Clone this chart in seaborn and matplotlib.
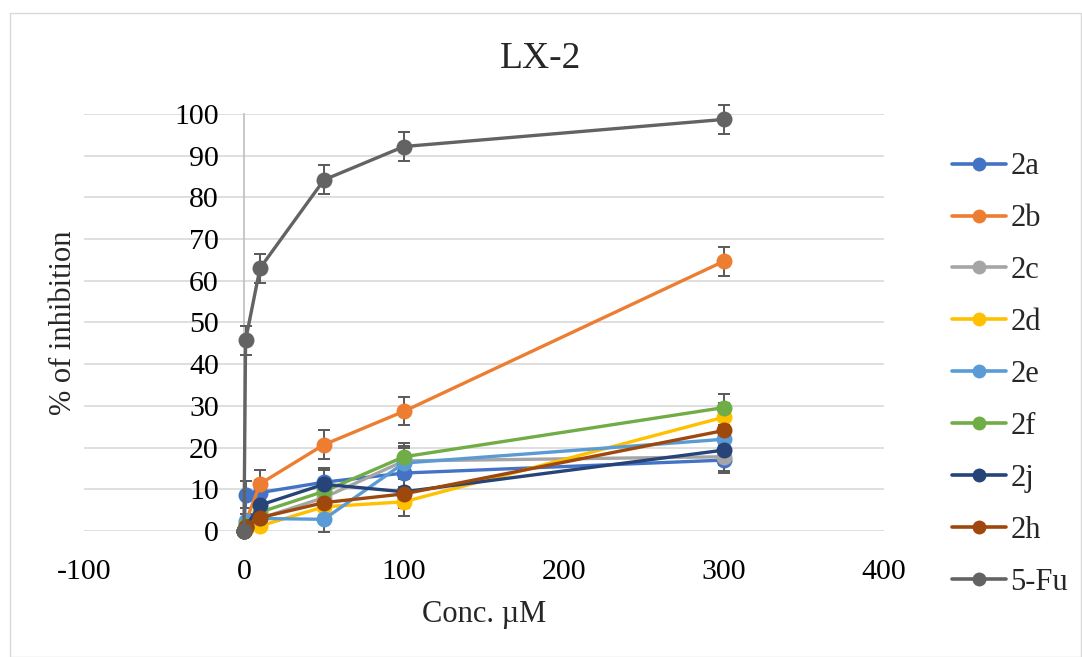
import matplotlib
matplotlib.use("Agg")
import matplotlib.pyplot as plt
import matplotlib.patches as patches
import pandas as pd
import seaborn as sns

# data
conc = [0, 1, 10, 50, 100, 300]
series_names = ["2a", "2b", "2c", "2d", "2e", "2f", "2j", "2h", "5-Fu"]
v_2a = [0, 8.7, 9.2, 11.7, 13.9, 17.0]
v_2b = [0, 2.0, 11.3, 20.7, 28.7, 64.7]
v_2c = [0, 1.0, 3.0, 8.0, 16.8, 17.8]
v_2d = [0, 0.5, 1.2, 5.8, 7.0, 27.3]
v_2e = [0, 2.5, 3.0, 2.8, 16.3, 22.0]
v_2f = [0, 1.5, 4.5, 9.5, 17.8, 29.6]
v_2j = [0, 1.0, 6.2, 11.2, 9.4, 19.4]
v_2h = [0, 1.0, 3.2, 6.8, 8.9, 24.1]
v_5fu = [0, 45.7, 63.0, 84.2, 92.2, 98.7]
err_2a = [0, 3.3, 3.0, 3.3, 3.5, 3.2]
err_2b = [0, 1.0, 3.4, 3.5, 3.4, 3.5]
err_2c = [0, 1.0, 1.5, 3.0, 3.5, 3.5]
err_2d = [0, 1.0, 1.0, 3.0, 3.5, 3.5]
err_2e = [0, 1.5, 1.5, 3.0, 3.5, 3.5]
err_2f = [0, 1.5, 2.0, 3.0, 3.2, 3.3]
err_2j = [0, 1.0, 2.0, 3.5, 3.5, 3.5]
err_2h = [0, 1.0, 2.0, 3.0, 3.5, 3.5]
err_5fu = [0, 3.5, 3.5, 3.5, 3.5, 3.5]
colors = ["#4472C4", "#ED7D31", "#A5A5A5", "#FFC000", "#5B9BD5",
          "#70AD47", "#264478", "#9E480E", "#636363"]

values = [v_2a, v_2b, v_2c, v_2d, v_2e, v_2f, v_2j, v_2h, v_5fu]
errors = [err_2a, err_2b, err_2c, err_2d, err_2e, err_2f, err_2j, err_2h, err_5fu]

rows = []
for name, vals in zip(series_names, values):
    for c, v in zip(conc, vals):
        rows.append({"conc": c, "inhib": v, "series": name})
df = pd.DataFrame(rows)

sns.set_style("white")
plt.rcParams["font.family"] = ["Liberation Serif", "DejaVu Serif"]
plt.rcParams["axes.unicode_minus"] = False

fig = plt.figure(figsize=(10.82, 6.57), dpi=100)
ax = fig.add_axes([0.0776, 0.1918, 0.817 - 0.0776, 0.8265 - 0.1918])

for name, vals, errs in zip(series_names, values, errors):
    ax.errorbar(conc, vals, yerr=errs, fmt="none", ecolor="#595959",
                elinewidth=1.4, capsize=4.3, capthick=1.4, zorder=3, clip_on=False)

sns.lineplot(data=df, x="conc", y="inhib", hue="series", palette=colors,
             hue_order=series_names, marker="o", markersize=11.5,
             markeredgewidth=0, linewidth=2.4, ax=ax, legend=False,
             zorder=4, clip_on=False)

ax.set_xlim(-100, 400)
ax.set_ylim(0, 100)
ax.set_xticks(range(-100, 401, 100))
ax.set_yticks(range(0, 101, 10))
ax.tick_params(axis="both", length=0, labelsize=21.5, colors="black")
ax.tick_params(axis="x", pad=20)
ax.tick_params(axis="y", pad=18)
ax.yaxis.grid(True, color="#D9D9D9", linewidth=1.2)
ax.xaxis.grid(False)
for s in ax.spines.values():
    s.set_visible(False)
# vertical axis crosses at x = 0, labels sit next to it
ax.spines["left"].set_visible(True)
ax.spines["left"].set_position(("data", 0))
ax.spines["left"].set_color("#BFBFBF")
ax.spines["left"].set_linewidth(1.2)
ax.set_axisbelow(True)

ax.set_xlabel("Conc. µM", fontsize=22, labelpad=11)
ax.set_ylabel("% of inhibition", fontsize=22)
ax.yaxis.set_label_coords(-0.008, 0.5)
fig.text(0.5, 0.91, "LX-2", fontsize=27, ha="center", va="center")

handles = [plt.Line2D([0], [0], color=c, marker="o", markersize=10,
                      linewidth=2.6, markeredgewidth=0) for c in colors]
fig.legend(handles, series_names, loc="center left",
           bbox_to_anchor=(0.869, 0.43), frameon=False, fontsize=22,
           labelspacing=0.75, handlelength=1.75, handletextpad=0.15,
           borderaxespad=0)

fig.patches.append(patches.Rectangle((0.009, 0.0), 0.99, 0.98,
                                     transform=fig.transFigure, fill=False,
                                     edgecolor="#D9D9D9", linewidth=1))

fig.savefig("out.png", dpi=100)
